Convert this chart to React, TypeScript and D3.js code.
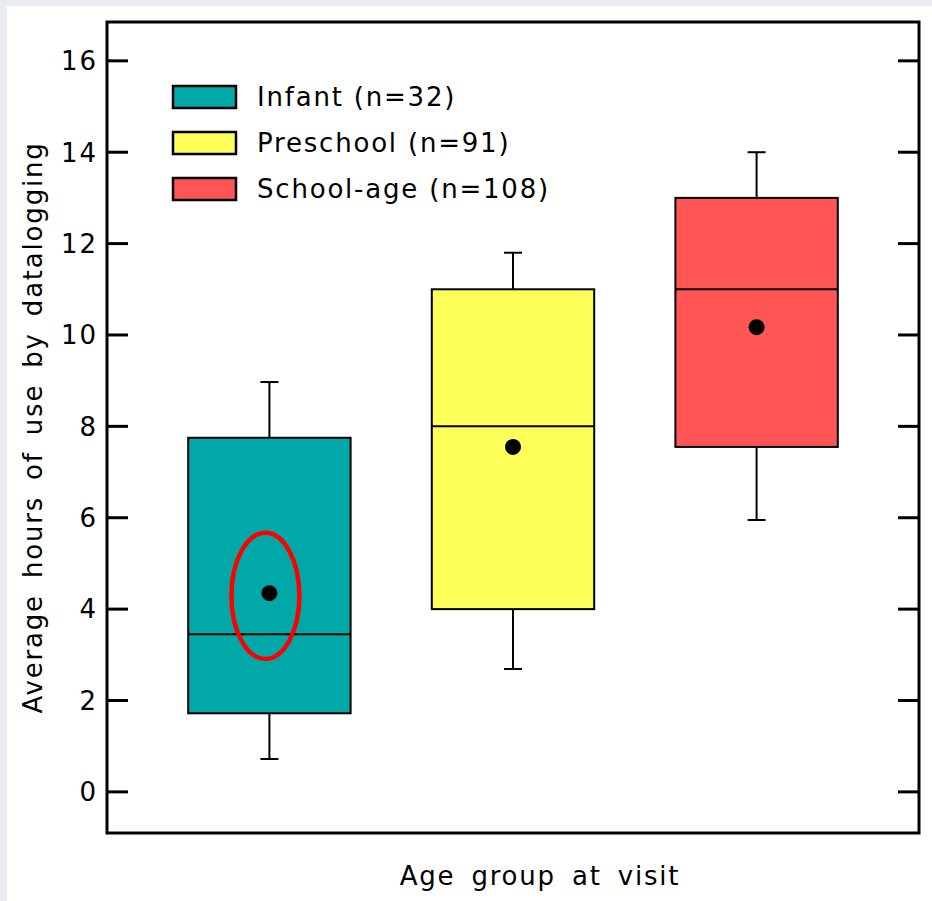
import React, { useEffect, useRef } from 'react';
import * as d3 from 'd3';

// data
const groups = ['Infant', 'Preschool', 'School-age'];
const counts = [32, 91, 108];
const colors = ['#00A8A8', '#FFFF5A', '#FF5555'];
const whiskerLow = [0.72, 2.69, 5.95];
const boxLow = [1.72, 4.0, 7.55];
const medians = [3.45, 8.0, 11.0];
const boxHigh = [7.75, 11.0, 13.0];
const whiskerHigh = [8.97, 11.8, 14.0];
const means = [4.35, 7.55, 10.17];
const yTicks = [0, 2, 4, 6, 8, 10, 12, 14, 16];

// red ring around the infant mean
const ringCenter = 4.29;
const ringHalf = 1.38;

const FONT = '"DejaVu Sans", sans-serif';

export default function App() {
  const svgRef = useRef(null);

  useEffect(() => {
    const svg = d3.select(svgRef.current);
    svg.selectAll('*').remove();

    const W = 932, H = 901;
    const left = 107, right = 919, top = 22, bottom = 833;

    svg.append('rect').attr('width', W).attr('height', H).attr('fill', '#E9EDF2');
    svg.append('rect').attr('x', 7).attr('y', 6).attr('width', W - 7).attr('height', H - 6).attr('fill', '#fff');

    const y = d3.scaleLinear().domain([-0.9, 16.85]).range([bottom, top]);
    const x = d3.scalePoint().domain(groups).range([left, right]).padding(2 / 3);
    const boxW = (right - left) * 0.2;
    const capW = 18;

    const data = groups.map((g, i) => ({
      g, c: colors[i], wl: whiskerLow[i], bl: boxLow[i], md: medians[i],
      bh: boxHigh[i], wh: whiskerHigh[i], mn: means[i]
    }));

    const box = svg.append('g').selectAll('g').data(data).enter().append('g');

    // whiskers
    box.append('line')
      .attr('x1', d => x(d.g)).attr('x2', d => x(d.g))
      .attr('y1', d => y(d.wl)).attr('y2', d => y(d.wh))
      .attr('stroke', '#000').attr('stroke-width', 2);
    box.append('line')
      .attr('x1', d => x(d.g) - capW / 2).attr('x2', d => x(d.g) + capW / 2)
      .attr('y1', d => y(d.wh)).attr('y2', d => y(d.wh))
      .attr('stroke', '#000').attr('stroke-width', 2);
    box.append('line')
      .attr('x1', d => x(d.g) - capW / 2).attr('x2', d => x(d.g) + capW / 2)
      .attr('y1', d => y(d.wl)).attr('y2', d => y(d.wl))
      .attr('stroke', '#000').attr('stroke-width', 2);

    box.append('rect')
      .attr('x', d => x(d.g) - boxW / 2)
      .attr('y', d => y(d.bh))
      .attr('width', boxW)
      .attr('height', d => y(d.bl) - y(d.bh))
      .attr('fill', d => d.c)
      .attr('stroke', '#000').attr('stroke-width', 2);

    box.append('line')
      .attr('x1', d => x(d.g) - boxW / 2).attr('x2', d => x(d.g) + boxW / 2)
      .attr('y1', d => y(d.md)).attr('y2', d => y(d.md))
      .attr('stroke', '#000').attr('stroke-width', 2);

    box.append('circle')
      .attr('cx', d => x(d.g)).attr('cy', d => y(d.mn)).attr('r', 8)
      .attr('fill', '#000');

    // annotation ring
    svg.append('ellipse')
      .attr('cx', x(groups[0]) - 4)
      .attr('cy', y(ringCenter))
      .attr('rx', 34)
      .attr('ry', y(ringCenter - ringHalf) - y(ringCenter))
      .attr('fill', 'none')
      .attr('stroke', '#F00')
      .attr('stroke-width', 4.5);

    // frame
    svg.append('rect')
      .attr('x', left).attr('y', top)
      .attr('width', right - left).attr('height', bottom - top)
      .attr('fill', 'none').attr('stroke', '#000').attr('stroke-width', 3);

    // inward ticks on both sides
    const tickLen = 21;
    svg.append('g').selectAll('line').data(yTicks).enter().append('line')
      .attr('x1', left).attr('x2', left + tickLen)
      .attr('y1', d => y(d)).attr('y2', d => y(d))
      .attr('stroke', '#000').attr('stroke-width', 3);
    svg.append('g').selectAll('line').data(yTicks).enter().append('line')
      .attr('x1', right - tickLen).attr('x2', right)
      .attr('y1', d => y(d)).attr('y2', d => y(d))
      .attr('stroke', '#000').attr('stroke-width', 3);

    svg.append('g').selectAll('text').data(yTicks).enter().append('text')
      .attr('x', 98).attr('y', d => y(d))
      .attr('dy', '0.36em')
      .attr('text-anchor', 'end')
      .attr('font-family', FONT).attr('font-size', 26)
      .attr('letter-spacing', 2)
      .text(d => d);

    // legend
    const leg = svg.append('g').selectAll('g').data(data).enter().append('g')
      .attr('transform', (d, i) => `translate(173, ${97 + i * 46})`);
    leg.append('rect')
      .attr('x', 0).attr('y', -11).attr('width', 63).attr('height', 22)
      .attr('fill', d => d.c).attr('stroke', '#000').attr('stroke-width', 2.5);
    leg.append('text')
      .attr('x', 84).attr('y', 0).attr('dy', '0.36em')
      .attr('font-family', FONT).attr('font-size', 26)
      .attr('letter-spacing', 1.8)
      .text((d, i) => `${d.g} (n=${counts[i]})`);

    // axis titles
    svg.append('text')
      .attr('x', 540).attr('y', 885)
      .attr('text-anchor', 'middle')
      .attr('font-family', FONT).attr('font-size', 26)
      .attr('letter-spacing', 1.8).attr('word-spacing', 6)
      .text('Age group at visit');
    svg.append('text')
      .attr('transform', `translate(42, ${(top + bottom) / 2}) rotate(-90)`)
      .attr('text-anchor', 'middle')
      .attr('font-family', FONT).attr('font-size', 26)
      .attr('letter-spacing', 1.8).attr('word-spacing', 6)
      .text('Average hours of use by datalogging');
  }, []);

  return (
    <svg ref={svgRef} width={932} height={901}
      style={{ position: 'absolute', left: 0, top: 0, display: 'block' }} />
  );
}
